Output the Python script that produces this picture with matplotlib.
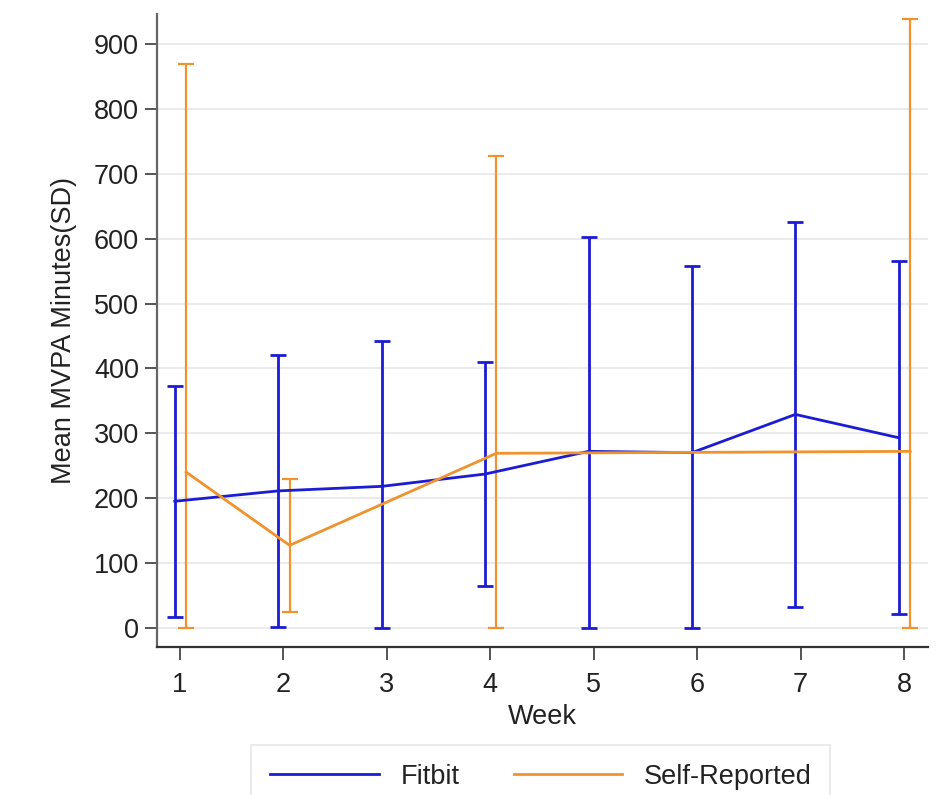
import numpy as np
import matplotlib
matplotlib.use("Agg")
import matplotlib.pyplot as plt

plt.rcParams['font.family'] = ['Liberation Sans', 'DejaVu Sans']

# weekly MVPA minutes, mean and SD
weeks_fitbit = np.array([1, 2, 3, 4, 5, 6, 7, 8])
fitbit_mean = np.array([195, 211, 218, 237, 272, 270, 329, 293])
fitbit_sd = np.array([178, 210, 225, 173, 330, 288, 297, 272])

weeks_self = np.array([1, 2, 4, 8])
self_mean = np.array([240, 127, 269, 272])
self_sd = np.array([629, 103, 458, 667])

week_ticks = [1, 2, 3, 4, 5, 6, 7, 8]
y_ticks = [0, 100, 200, 300, 400, 500, 600, 700, 800, 900]

BLUE = '#1c1cd2'
ORANGE = '#f0922e'
FS = 19.5

fig = plt.figure(figsize=(9.4, 7.95), dpi=100)
ax = fig.add_axes([0.167, 0.1862, 0.8202, 0.7962])

# error bars are cut off at zero
x_fit = weeks_fitbit - 0.05
x_self = weeks_self + 0.06
fit_err = [np.minimum(fitbit_sd, fitbit_mean), fitbit_sd]
self_err = [np.minimum(self_sd, self_mean), self_sd]

ax.errorbar(x_fit, fitbit_mean, yerr=fit_err, fmt='none', ecolor=BLUE,
            elinewidth=2, capsize=5.5, capthick=2, zorder=3)
ax.errorbar(x_self, self_mean, yerr=self_err, fmt='none', ecolor=ORANGE,
            elinewidth=1.6, capsize=5.5, capthick=1.6, zorder=3)
ax.plot(x_fit, fitbit_mean, color=BLUE, lw=2, label='Fitbit', zorder=4)
ax.plot(x_self, self_mean, color=ORANGE, lw=2, label='Self-Reported', zorder=5)

ax.set_xlim(0.778, 8.232)
ax.set_ylim(-29.8, 946.8)
ax.set_xticks(week_ticks)
ax.set_yticks(y_ticks)
ax.yaxis.grid(True, color='#ebebeb', lw=1.5)
ax.set_axisbelow(True)

for side in ['top', 'right']:
    ax.spines[side].set_visible(False)
ax.spines['left'].set_color('#666666')
ax.spines['bottom'].set_color('#333333')
for side in ['left', 'bottom']:
    ax.spines[side].set_linewidth(1.6)

ax.tick_params(axis='both', direction='out', length=9, width=1.4,
               color='#555555', labelsize=FS, labelcolor='#222222')
ax.tick_params(axis='y', pad=4)
ax.tick_params(axis='x', pad=9)

ax.set_xlabel('Week', fontsize=FS, color='#222222', labelpad=4)
ax.set_ylabel('Mean MVPA Minutes(SD)', fontsize=FS, color='#222222', labelpad=12)

leg = fig.legend(loc='upper center', bbox_to_anchor=(0.5755, 0.0805), ncol=2,
                 fontsize=FS, frameon=True, fancybox=False, handlelength=4.0,
                 handletextpad=0.8, columnspacing=2.0, borderpad=0.7)
leg.get_frame().set_edgecolor('#e6e6e6')
leg.get_frame().set_linewidth(1.5)
for t in leg.get_texts():
    t.set_color('#222222')

fig.savefig('out.png', dpi=100)
